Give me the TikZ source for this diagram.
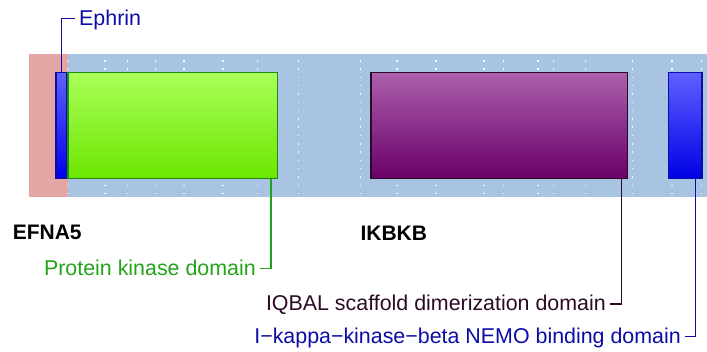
\documentclass[tikz,border=0pt]{standalone}
\usepackage{fontspec}
\setmainfont{Liberation Sans}
\usepackage{xcolor}
\usepackage{tikz}
\usetikzlibrary{positioning}

\definecolor{trackpink}{HTML}{E4A5A5}
\definecolor{trackblue}{HTML}{A9C4E3}
\definecolor{ephblue}{HTML}{0C0CA6}
\definecolor{pkgreen}{HTML}{22A31A}
\definecolor{iqdark}{HTML}{2A0A26}

\begin{document}
\begin{tikzpicture}[x=1pt, y=-1pt,
		domainbox/.style={draw, rectangle, inner sep=0pt, line width=1.5pt, minimum height=106pt},
		lbl/.style={font=\fontsize{21.4}{24}\selectfont, inner xsep=4pt, inner ysep=0pt, text height=13.6pt, text depth=0pt},
		genelbl/.style={font=\fontsize{21}{24}\selectfont\bfseries, inner sep=0pt, anchor=base west},
		griddots/.style={white, opacity=0.9, line width=1.5pt, dash pattern=on 1.5pt off 6.8pt},
		leader/.style={line width=1.5pt}]
			\useasboundingbox (0,0) rectangle (707,351);
			% Tracks:
			\fill[trackpink] (29,54) rectangle (67.7,196.7);
			\fill[trackblue] (67.7,54) rectangle (707,196.7);
			\foreach \gx in {67.7,105,127.5,155.7,184,222.8,257.5,298.5,360.5,396.8,435.8,484,503.5,538,553.5,585.7,632.5,672,701.5}
				\draw[griddots] (\gx,60) -- (\gx,194.5);
			% Domains:
			\node[domainbox, draw=pkgreen!85!black, top color={rgb,255:red,170;green,255;blue,90}, bottom color={rgb,255:red,108;green,230;blue,0}, minimum width=209.2pt](PK) at (172.65,125.35){};
			\node[domainbox, draw=ephblue, top color={rgb,255:red,96;green,96;blue,255}, bottom color={rgb,255:red,0;green,0;blue,230}, minimum width=10.8pt](EPH) at (61.15,125.35){};
			\node[domainbox, draw=iqdark, top color={rgb,255:red,172;green,96;blue,172}, bottom color={rgb,255:red,106;green,0;blue,106}, minimum width=256.8pt](IQ) at (499.15,125.35){};
			\node[domainbox, draw=ephblue, top color={rgb,255:red,96;green,96;blue,255}, bottom color={rgb,255:red,0;green,0;blue,230}, minimum width=33.5pt](NEMO) at (685.2,125.35){};
			% Gene names:
			\node[genelbl](G1) at (12.6,239.4){EFNA5};
			\node[genelbl](G2) at (360.3,240.3){IKBKB};
			% Labels and leaders:
			\node[lbl, anchor=west, text=ephblue](L1) at (75,18.3){Ephrin};
			\node[lbl, anchor=east, text=pkgreen](L2) at (260,268.3){Protein kinase domain};
			\node[lbl, anchor=east, text=iqdark](L3) at (610,304){IQBAL scaffold dimerization domain};
			\node[lbl, anchor=east, text=ephblue](L4) at (685,336.7){I−kappa−kinase−beta NEMO binding domain};
			\draw[leader, ephblue] ([xshift=-5.6pt]EPH.north east) |- (L1.west);
			\draw[leader, pkgreen] ([xshift=-7pt]PK.south east) |- (L2.east);
			\draw[leader, iqdark] ([xshift=-6.6pt]IQ.south east) |- (L3.east);
			\draw[leader, ephblue] ([xshift=-7pt]NEMO.south east) |- (L4.east);
		\end{tikzpicture}
\end{document}
